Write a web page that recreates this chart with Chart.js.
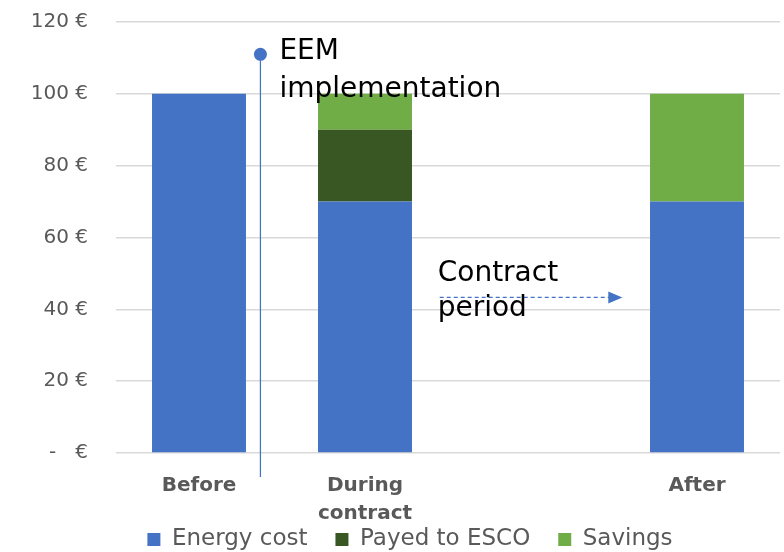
<!DOCTYPE html>
<html lang="en">
<head>
  <meta charset="UTF-8">
  <title>Energy cost before, during and after the contract</title>
  <script src="https://cdn.jsdelivr.net/npm/chart.js"></script>
  <style>
    html, body {
      margin: 0;
      padding: 0;
      background: #ffffff;
    }
    #wrap {
      width: 784px;
      height: 552px;
    }
  </style>
</head>
<body>
  <div id="wrap"><canvas id="costChart"></canvas></div>

  <script>
    // categories (third slot is an empty gap between "During contract" and "After")
    const categories = ['Before', ['During', 'contract'], '', 'After'];

    // stacked series, in €
    const energyCost = [100, 70, null, 70];
    const payedToEsco = [0, 20, null, 0];
    const savings = [0, 10, null, 30];

    const yTicks = [0, 20, 40, 60, 80, 100, 120];

    const FONT = '"DejaVu Sans", "Open Sans", sans-serif';
    const GREY = '#595959';
    const BLUE = '#4472C4';

    // marker line + dashed arrow, placed in axis units
    const eemMarker = { x: 0.37, top: 111, bottom: -6.7 };
    const contractArrow = { from: 1.45, to: 2.55, y: 43.3 };

    const annotations = {
      id: 'annotations',
      afterLayout(chart) {
        // two-line category labels run into the legend band, so let the x labels draw to the canvas bottom
        chart.scales.x.bottom = chart.height;
        // centre the legend a little right, under the plot rather than the whole canvas
        chart.legend.left += 20;
        chart.legend.right += 20;
      },
      afterDraw(chart) {
        const ctx = chart.ctx;
        const xs = chart.scales.x;
        const ys = chart.scales.y;
        const step = xs.getPixelForValue(1) - xs.getPixelForValue(0);
        const px = v => xs.getPixelForValue(0) + v * step;

        ctx.save();
        // EEM implementation marker
        const mx = px(eemMarker.x);
        const mTop = ys.getPixelForValue(eemMarker.top);
        ctx.strokeStyle = BLUE;
        ctx.lineWidth = 1.25;
        ctx.beginPath();
        ctx.moveTo(mx, mTop);
        ctx.lineTo(mx, ys.getPixelForValue(eemMarker.bottom));
        ctx.stroke();
        ctx.fillStyle = BLUE;
        ctx.beginPath();
        ctx.arc(mx, mTop, 6.5, 0, Math.PI * 2);
        ctx.fill();

        ctx.fillStyle = '#000000';
        ctx.font = '28px ' + FONT;
        ctx.textBaseline = 'middle';
        ctx.textAlign = 'left';
        ctx.fillText('EEM', mx + 19, mTop - 3);
        ctx.fillText('implementation', mx + 19, mTop + 35);

        // contract period arrow
        const ay = ys.getPixelForValue(contractArrow.y);
        const ax0 = px(contractArrow.from);
        const ax1 = px(contractArrow.to);
        ctx.strokeStyle = BLUE;
        ctx.lineWidth = 1.25;
        ctx.setLineDash([4, 3]);
        ctx.beginPath();
        ctx.moveTo(ax0, ay);
        ctx.lineTo(ax1 - 12, ay);
        ctx.stroke();
        ctx.setLineDash([]);
        ctx.fillStyle = BLUE;
        ctx.beginPath();
        ctx.moveTo(ax1, ay);
        ctx.lineTo(ax1 - 14, ay - 6);
        ctx.lineTo(ax1 - 14, ay + 6);
        ctx.closePath();
        ctx.fill();

        ctx.fillStyle = '#000000';
        ctx.fillText('Contract', ax0 - 2, ay - 24);
        ctx.fillText('period', ax0 - 2, ay + 11);
        ctx.restore();
      }
    };

    new Chart(document.getElementById('costChart'), {
      type: 'bar',
      data: {
        labels: categories,
        datasets: [
          { label: 'Energy cost', data: energyCost, backgroundColor: BLUE },
          { label: 'Payed to ESCO', data: payedToEsco, backgroundColor: '#385723' },
          { label: 'Savings', data: savings, backgroundColor: '#70AD47' }
        ]
      },
      options: {
        responsive: true,
        maintainAspectRatio: false,
        animation: false,
        layout: { padding: { left: 0, right: 4, top: 22, bottom: -9 } },
        datasets: {
          bar: { categoryPercentage: 1, barPercentage: 0.566, borderWidth: 0 }
        },
        plugins: {
          tooltip: { enabled: false },
          legend: {
            position: 'bottom',
            labels: {
              boxWidth: 13,
              boxHeight: 13,
              padding: 28,
              color: GREY,
              font: { family: FONT, size: 23 }
            }
          }
        },
        scales: {
          x: {
            stacked: true,
            afterFit(scale) { scale.height = 47; },
            grid: { display: false },
            border: { display: false },
            ticks: {
              color: GREY,
              padding: 11,
              maxRotation: 0,
              font: { family: FONT, size: 20, weight: 'bold', lineHeight: 1.4 }
            }
          },
          y: {
            stacked: true,
            min: 0,
            max: 120,
            afterFit(scale) {
              scale.width = 116;
              scale.paddingTop = 0;
              scale.paddingBottom = 0;
            },
            afterBuildTicks(scale) { scale.ticks = yTicks.map(v => ({ value: v })); },
            grid: { color: '#d9d9d9', lineWidth: 1.5, drawTicks: false },
            border: { display: false },
            ticks: {
              color: GREY,
              padding: 28,
              font: { family: FONT, size: 20 },
              callback: v => v === 0 ? '-   €' : v + ' €'
            }
          }
        }
      },
      plugins: [annotations]
    });
  </script>
</body>
</html>
